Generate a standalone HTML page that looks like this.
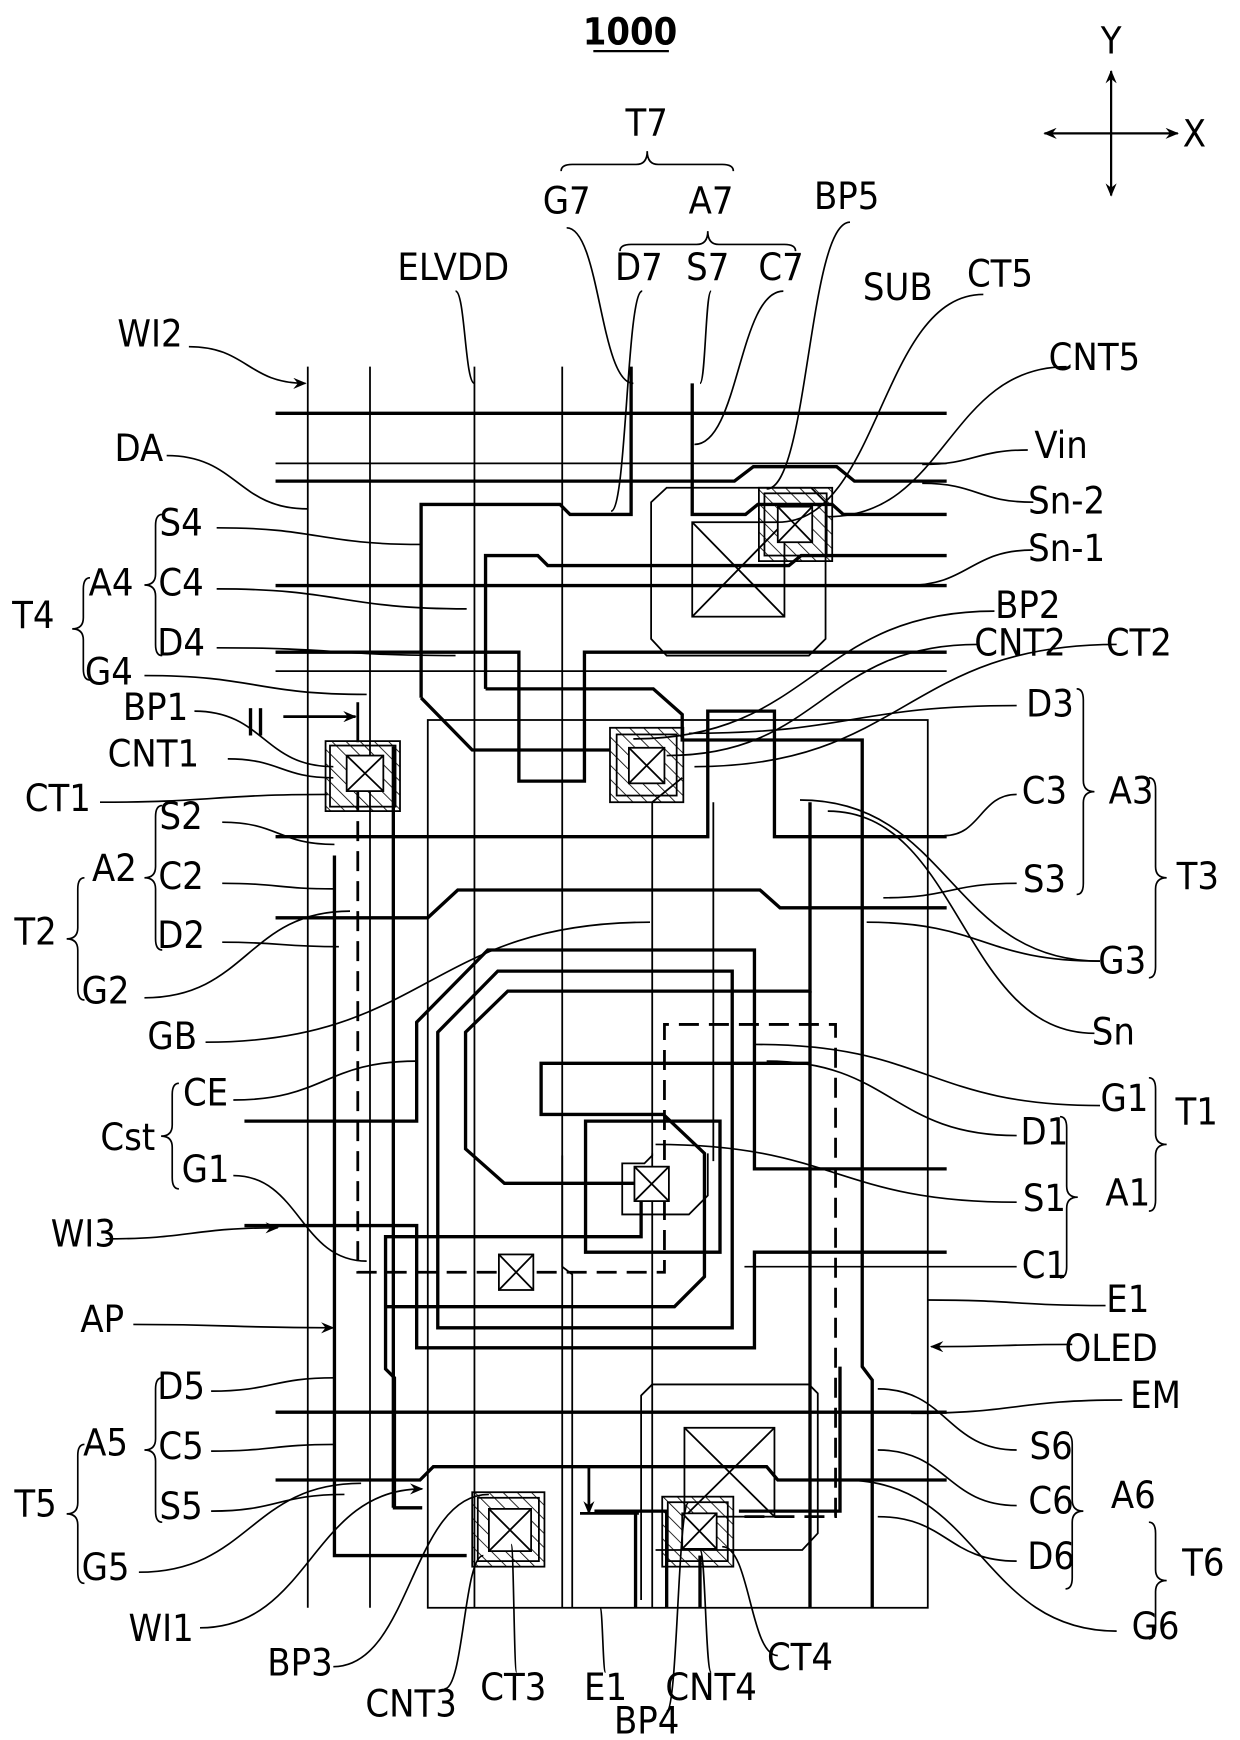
<!DOCTYPE html>
<html><head><meta charset="utf-8"><style>
html,body{margin:0;padding:0;background:#fff}
svg{display:block}
text{font-family:"DejaVu Sans Condensed","DejaVu Sans","Liberation Sans",sans-serif;font-size:34px;fill:#000}
</style></head><body>
<svg id="s" width="1240" height="1740" viewBox="0 0 1116 1566" xmlns="http://www.w3.org/2000/svg">
<defs>
<pattern id="h" patternUnits="userSpaceOnUse" width="9" height="9" patternTransform="rotate(-45)"><line x1="0" y1="0" x2="0" y2="9" stroke="#000" stroke-width="1.5"/></pattern>
<marker id="ar" markerWidth="12" markerHeight="10" refX="11" refY="5" orient="auto-start-reverse" markerUnits="userSpaceOnUse" viewBox="0 0 12 10"><path d="M0,0 L12,5 L0,10 L4,5Z" fill="#000"/></marker>
</defs>
<g fill="none" stroke="#000">
<g stroke-width="1.6">
<line x1="277" y1="330" x2="277" y2="1447"/>
<line x1="333" y1="330" x2="333" y2="1447"/>
<line x1="427" y1="330" x2="427" y2="1447"/>
<line x1="506" y1="330" x2="506" y2="1447"/>
<rect x="385" y="648" width="450" height="799"/>
<line x1="248" y1="417" x2="852" y2="417"/>
<line x1="248" y1="604" x2="852" y2="604"/>
<path d="M600,439 L730,439 L743,452 L743,575 L728,590 L600,590 L586,575 L586,452Z"/>
<rect x="623" y="470" width="83" height="85"/><path d="M623,470 L706,555 M706,470 L623,555"/>
<path d="M614,700 L587,722 L587,1040 L580,1047 L560,1047 L560,1093 L620,1093 L637,1076 L637,1038"/>
<path d="M642,722 L642,1045"/>
<path d="M577,1440 L577,1256 L587,1246 L728,1246 L736,1254 L736,1380 L722,1395 L590,1395"/>
<rect x="616" y="1285" width="81" height="80"/><path d="M616,1285 L697,1365 M697,1285 L616,1365"/>
<path d="M587,1038 L587,1447"/>
<path d="M506,1040 L506,1140 L515,1147 L515,1447"/>
</g>
<g stroke-width="3">
<line x1="248" y1="372" x2="852" y2="372"/>
<path d="M248,433 L661,433 L678,420 L753,420 L769,433 L852,433"/>
<path d="M379,628 L379,454 L504,454 L513,463 L568,463 L568,330"/>
<path d="M623,345 L623,463 L671,463 L682,454 L749,454 L759,463 L852,463"/>
<path d="M437,620 L437,500 L484,500 L493,509 L710,509 L721,500 L852,500"/>
<line x1="248" y1="527" x2="852" y2="527"/>
<path d="M248,587 L467,587 L467,703 L526,703 L526,587 L852,587"/>
<path d="M379,628 L425,675 L549,675"/>
<path d="M437,620 L588,620 L614,643 L614,666 L776,666 L776,1230 L785,1242 L785,1447"/>
<path d="M248,753 L637,753 L637,640 L697,640 L697,753 L852,753"/>
<path d="M248,826 L385,826 L412,801 L684,801 L702,817 L852,817"/>
<path d="M220,1009 L375,1009 L375,920 L439,855 L679,855 L679,1052 L852,1052"/>
<path d="M729,722 L729,892 L457,892 L419,929 L419,1034 L454,1065 L577,1065 L577,1113 L347,1113 L347,1232 L355,1240 L355,1357 L380,1357"/>
<path d="M394,1195 L394,929 L448,874 L659,874 L659,1195 Z"/>
<path d="M730,957 L487,957 L487,1003 L597,1003 L634,1038 L634,1149 L607,1176 L347,1176"/>
<path d="M527,1009 L648,1009 L648,1127 L527,1127 Z"/>
<path d="M220,1103 L375,1103 L375,1213 L679,1213 L679,1127 L852,1127"/>
<path d="M729,892 L729,1447"/>
<line x1="248" y1="1271" x2="852" y2="1271"/>
<path d="M248,1332 L378,1332 L390,1320 L690,1320 L700,1332 L852,1332"/>
<path d="M301,770 L301,1400 L420,1400"/>
<path d="M354,672 L354,1357"/>
<path d="M756,1230 L756,1360 L665,1360"/>
<path d="M535,1360 L600,1360 L600,1447 M572,1360 L572,1447"/>
<path d="M630,1400 L630,1447"/>
</g>
<g stroke-width="2.5" stroke-dasharray="18,9">
<path d="M322,712 L322,1145 L598,1145 L598,922 L752,922 L752,1365 L665,1365"/>
</g>
<g stroke-width="1.6">
<rect x="293" y="667" width="67" height="63" fill="url(#h)"/><rect x="297" y="671" width="59" height="55"/>
<rect x="312" y="680" width="33" height="32" fill="#fff"/><path d="M312,680 L345,712 M345,680 L312,712"/>
<rect x="549" y="655" width="66" height="67" fill="url(#h)"/><rect x="555" y="661" width="54" height="55"/>
<rect x="566" y="673" width="32" height="32" fill="#fff"/><path d="M566,673 L598,705 M598,673 L566,705"/>
<rect x="683" y="439" width="66" height="66" fill="url(#h)"/><rect x="688" y="444" width="56" height="56"/>
<rect x="700" y="456" width="31" height="32" fill="#fff"/><path d="M700,456 L731,488 M731,456 L700,488"/>
<rect x="425" y="1343" width="65" height="67" fill="url(#h)"/><rect x="430" y="1348" width="55" height="57"/>
<rect x="440" y="1358" width="38" height="38" fill="#fff"/><path d="M440,1358 L478,1396 M478,1358 L440,1396"/>
<rect x="596" y="1347" width="64" height="63" fill="url(#h)"/><rect x="601" y="1352" width="54" height="53"/>
<rect x="614" y="1362" width="31" height="32" fill="#fff"/><path d="M614,1362 L645,1394 M645,1362 L614,1394"/>
<rect x="449" y="1129" width="31" height="32" fill="#fff"/><path d="M449,1129 L480,1161 M480,1129 L449,1161"/>
<rect x="571" y="1050" width="31" height="31" fill="#fff"/><path d="M571,1050 L602,1081 M602,1050 L571,1081"/>
</g>
<g stroke-width="2">
<line x1="1000" y1="64" x2="1000" y2="176" marker-end="url(#ar)" marker-start="url(#ar)"/>
<line x1="940" y1="120" x2="1060" y2="120" marker-end="url(#ar)" marker-start="url(#ar)"/>
<line x1="534" y1="46" x2="602" y2="46"/>
</g>
<g stroke-width="2.5">
<line x1="255" y1="645" x2="320" y2="645" marker-end="url(#ar)"/>
<line x1="322" y1="632" x2="322" y2="668"/>
<line x1="530" y1="1320" x2="530" y2="1362" marker-end="url(#ar)"/>
<line x1="522" y1="1362" x2="575" y2="1362"/>
</g>
<g id="lead" stroke-width="1.5"></g>
</g>
<g id="txt">
<text x="567" y="40" text-anchor="middle" font-weight="bold">1000</text>
<text x="1000" y="48" text-anchor="middle">Y</text>
<text x="1075" y="132" text-anchor="middle">X</text>
<text x="582" y="122" text-anchor="middle">T7</text>
<text x="510" y="192" text-anchor="middle">G7</text>
<text x="640" y="192" text-anchor="middle">A7</text>
<text x="575" y="252" text-anchor="middle">D7</text>
<text x="637" y="252" text-anchor="middle">S7</text>
<text x="703" y="252" text-anchor="middle">C7</text>
<text x="762" y="188" text-anchor="middle">BP5</text>
<text x="408" y="252" text-anchor="middle">ELVDD</text>
<text x="808" y="270" text-anchor="middle">SUB</text>
<text x="900" y="258" text-anchor="middle">CT5</text>
<text x="985" y="333" text-anchor="middle">CNT5</text>
<text x="135" y="312" text-anchor="middle">WI2</text>
<text x="125" y="415" text-anchor="middle">DA</text>
<text x="955" y="412" text-anchor="middle">Vin</text>
<text x="960" y="462" text-anchor="middle">Sn-2</text>
<text x="960" y="505" text-anchor="middle">Sn-1</text>
<text x="163" y="482" text-anchor="middle">S4</text>
<text x="100" y="536" text-anchor="middle">A4</text>
<text x="163" y="536" text-anchor="middle">C4</text>
<text x="30" y="565" text-anchor="middle">T4</text>
<text x="163" y="590" text-anchor="middle">D4</text>
<text x="98" y="616" text-anchor="middle">G4</text>
<text x="925" y="556" text-anchor="middle">BP2</text>
<text x="918" y="590" text-anchor="middle">CNT2</text>
<text x="1025" y="590" text-anchor="middle">CT2</text>
<text x="945" y="645" text-anchor="middle">D3</text>
<text x="230" y="662" text-anchor="middle">II</text>
<text x="140" y="648" text-anchor="middle">BP1</text>
<text x="138" y="690" text-anchor="middle">CNT1</text>
<text x="52" y="730" text-anchor="middle">CT1</text>
<text x="163" y="746" text-anchor="middle">S2</text>
<text x="103" y="793" text-anchor="middle">A2</text>
<text x="163" y="800" text-anchor="middle">C2</text>
<text x="32" y="850" text-anchor="middle">T2</text>
<text x="163" y="853" text-anchor="middle">D2</text>
<text x="95" y="903" text-anchor="middle">G2</text>
<text x="940" y="723" text-anchor="middle">C3</text>
<text x="1018" y="723" text-anchor="middle">A3</text>
<text x="1078" y="800" text-anchor="middle">T3</text>
<text x="940" y="803" text-anchor="middle">S3</text>
<text x="1010" y="876" text-anchor="middle">G3</text>
<text x="155" y="944" text-anchor="middle">GB</text>
<text x="1002" y="940" text-anchor="middle">Sn</text>
<text x="185" y="995" text-anchor="middle">CE</text>
<text x="115" y="1035" text-anchor="middle">Cst</text>
<text x="185" y="1064" text-anchor="middle">G1</text>
<text x="1012" y="1000" text-anchor="middle">G1</text>
<text x="1077" y="1012" text-anchor="middle">T1</text>
<text x="940" y="1030" text-anchor="middle">D1</text>
<text x="1015" y="1085" text-anchor="middle">A1</text>
<text x="940" y="1090" text-anchor="middle">S1</text>
<text x="940" y="1150" text-anchor="middle">C1</text>
<text x="1015" y="1181" text-anchor="middle">E1</text>
<text x="75" y="1122" text-anchor="middle">WI3</text>
<text x="92" y="1199" text-anchor="middle">AP</text>
<text x="1000" y="1225" text-anchor="middle">OLED</text>
<text x="1040" y="1267" text-anchor="middle">EM</text>
<text x="163" y="1259" text-anchor="middle">D5</text>
<text x="95" y="1310" text-anchor="middle">A5</text>
<text x="163" y="1313" text-anchor="middle">C5</text>
<text x="32" y="1365" text-anchor="middle">T5</text>
<text x="163" y="1367" text-anchor="middle">S5</text>
<text x="95" y="1422" text-anchor="middle">G5</text>
<text x="946" y="1313" text-anchor="middle">S6</text>
<text x="946" y="1362" text-anchor="middle">C6</text>
<text x="1020" y="1357" text-anchor="middle">A6</text>
<text x="946" y="1412" text-anchor="middle">D6</text>
<text x="1083" y="1418" text-anchor="middle">T6</text>
<text x="1040" y="1475" text-anchor="middle">G6</text>
<text x="145" y="1477" text-anchor="middle">WI1</text>
<text x="270" y="1508" text-anchor="middle">BP3</text>
<text x="370" y="1545" text-anchor="middle">CNT3</text>
<text x="462" y="1530" text-anchor="middle">CT3</text>
<text x="545" y="1530" text-anchor="middle">E1</text>
<text x="640" y="1530" text-anchor="middle">CNT4</text>
<text x="720" y="1503" text-anchor="middle">CT4</text>
<text x="582" y="1560" text-anchor="middle">BP4</text>
</g>
</svg>
<script>
var L=document.getElementById('lead'),NS="http://www.w3.org/2000/svg";
function P(d,arrow){var p=document.createElementNS(NS,'path');p.setAttribute('d',d);if(arrow)p.setAttribute('marker-end','url(#ar)');L.appendChild(p);}
function lead(x1,y1,x2,y2,a){var mx=(x1+x2)/2;P('M'+x1+','+y1+' C'+mx+','+y1+' '+mx+','+y2+' '+x2+','+y2,a);}
function vb(x,y1,y2,w,dir){
 var ym=(y1+y2)/2,r=10,t=x-dir*w,b=x;
 P('M'+(b+dir*6)+','+y1+' Q'+b+','+y1+' '+b+','+(y1+r)+' L'+b+','+(ym-r)+' Q'+b+','+ym+' '+t+','+ym+' Q'+b+','+ym+' '+b+','+(ym+r)+' L'+b+','+(y2-r)+' Q'+b+','+y2+' '+(b+dir*6)+','+y2);}
function hb(y,x1,x2,h){var xm=(x1+x2)/2,r=10,t=y-h;
 P('M'+x1+','+(y+6)+' Q'+x1+','+y+' '+(x1+r)+','+y+' L'+(xm-r)+','+y+' Q'+xm+','+y+' '+xm+','+t+' Q'+xm+','+y+' '+(xm+r)+','+y+' L'+(x2-r)+','+y+' Q'+x2+','+y+' '+x2+','+(y+6));}
hb(148,505,660,12);hb(220,558,716,12);
vb(140,463,590,10,1);vb(75,520,612,10,1);vb(140,725,855,10,1);vb(70,790,900,10,1);vb(155,975,1070,10,1);
vb(140,1240,1370,10,1);vb(70,1300,1425,10,1);
vb(975,620,805,10,-1);vb(1040,700,880,10,-1);vb(960,1005,1150,10,-1);vb(1040,970,1090,10,-1);
vb(965,1290,1430,10,-1);vb(1040,1370,1475,10,-1);
var Ls=[[170,312,275,345,1],[150,410,277,458],[195,475,379,490],[195,530,420,548],[195,583,410,590],[130,608,330,625],
[175,640,300,690],[205,683,300,700],[90,722,295,715],[200,740,301,760],[200,795,301,800],[200,848,305,852],[130,898,315,820],
[185,938,585,830],[210,990,375,955],[210,1058,330,1135],[95,1115,250,1105,1],[120,1192,300,1195,1],
[190,1252,301,1240],[190,1306,301,1300],[190,1360,310,1345],[125,1415,325,1335],[180,1465,380,1340,1],[300,1500,440,1345],[400,1520,435,1400],[465,1505,460,1390],
[545,1505,540,1447],[600,1540,620,1352],[640,1505,630,1395],[700,1490,650,1392],
[1005,1468,760,1332],[915,1405,790,1365],[915,1355,790,1305],[915,1305,790,1250],[1010,1260,820,1272],[965,1210,838,1212,1],[995,1175,835,1170],
[915,1140,670,1140],[915,1082,590,1030],[915,1022,690,955],[990,995,680,940],[985,930,745,730],[990,865,780,830],[990,865,720,720],
[915,795,795,808],[915,715,850,752],[915,635,620,660],[1005,580,625,690],[880,580,600,680],[895,550,570,665],
[930,495,815,527],[930,452,830,435],[925,405,830,418],[960,330,745,465],[885,265,700,470],[765,200,690,440],[705,262,625,400],[640,262,630,345],[578,262,550,460],[510,205,570,345],[410,262,427,345]];
Ls.forEach(function(a){lead(a[0],a[1],a[2],a[3],a[4]);});
</script>
</body></html>
